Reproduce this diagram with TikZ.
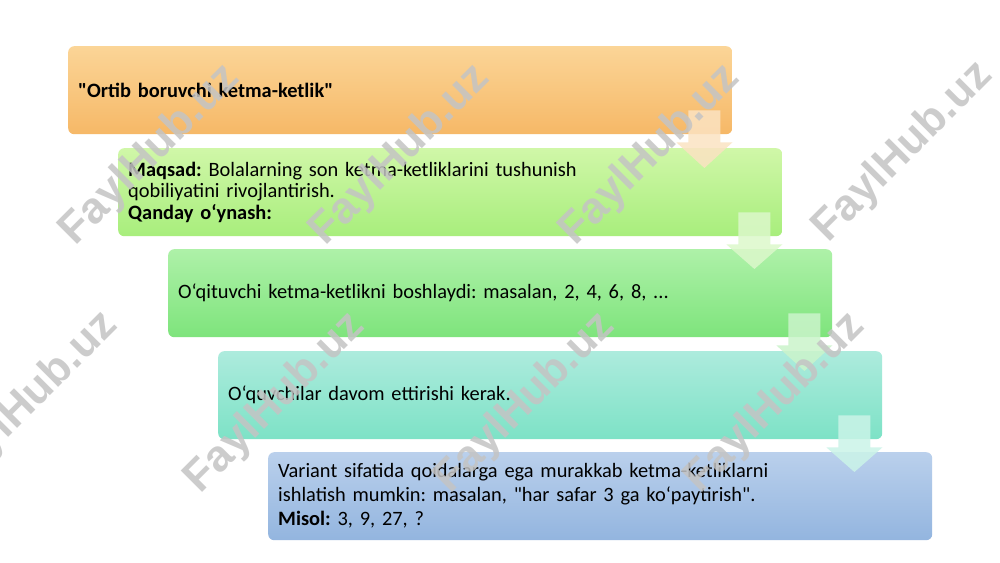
\documentclass[tikz,border=0pt]{standalone}
\usepackage{fontspec}
\setmainfont{Carlito}[Ligatures=TeXOff]
\newfontfamily\wmfont{Liberation Sans}
\usetikzlibrary{calc}
\definecolor{oT}{HTML}{FBD597}\definecolor{oB}{HTML}{F6B867}
\definecolor{lgT}{HTML}{D0F7A8}\definecolor{lgB}{HTML}{A8EE7C}
\definecolor{gT}{HTML}{AEF1A8}\definecolor{gB}{HTML}{7EE47C}
\definecolor{tT}{HTML}{ADEBDD}\definecolor{tB}{HTML}{7DE2C6}
\definecolor{bT}{HTML}{BAD0EC}\definecolor{bB}{HTML}{93B5DF}
\definecolor{wm}{HTML}{C4C4C4}
\newcommand\boxfont[1]{\frenchspacing\fontsize{20.4}{#1}\selectfont}
\tikzset{
  box/.style={anchor=north west, rounded corners=6pt, minimum width=664pt, minimum height=88pt,
    text width=644pt, inner xsep=10pt, align=left, font=\boxfont{21.5pt}, text=black},
  wmark/.style={rotate=45, font=\wmfont\bfseries\fontsize{44}{44}\selectfont, text=wm, text opacity=0.85},
}
\newcommand\blkarrow[3]{%
  \coordinate (#1top) at ($(#1.south east)+(-28pt,24pt)$);
  \coordinate (#1base) at ($(#1.south east)+(-28pt,-8pt)$);
  \coordinate (#1n) at ($(#2.north)+(0,-20pt)$);
  \coordinate (#1tip) at (#1base |- #1n);
  \fill[#3!40!white, opacity=0.85] ($(#1top)+(-16pt,0)$) -- ($(#1top)+(16pt,0)$) -- ($(#1base)+(16pt,0)$)
    -- ($(#1base)+(28pt,0)$) -- (#1tip) -- ($(#1base)+(-28pt,0)$) -- ($(#1base)+(-16pt,0)$) -- cycle;
}
\begin{document}
\begin{tikzpicture}[x=1pt,y=-1pt]
\useasboundingbox (0,0) rectangle (1000,562);
\fill[white] (0,0) rectangle (1000,562);
\node[box, top color=oT, bottom color=oB] (b1) at (68,46) {\textbf{"Ortib boruvchi ketma-ketlik"}};
\node[box, top color=lgT, bottom color=lgB] (b2) at (118,148) {\textbf{Maqsad:} Bolalarning son ketma-ketliklarini tushunish\\ qobiliyatini rivojlantirish.\\ \textbf{Qanday o‘ynash:}};
\node[box, top color=gT, bottom color=gB] (b3) at (168,249) {O‘qituvchi ketma-ketlikni boshlaydi: masalan, 2, 4, 6, 8, ...};
\node[box, top color=tT, bottom color=tB] (b4) at (218,351) {O‘quvchilar davom ettirishi kerak.};
\node[box, top color=bT, bottom color=bB, font=\boxfont{24pt}] (b5) at (268,452) {Variant sifatida qoidalarga ega murakkab ketma-ketliklarni\\ ishlatish mumkin: masalan, "har safar 3 ga ko‘paytirish".\\ \textbf{Misol:} 3, 9, 27, ?};
\blkarrow{b1}{b2}{oB}
\blkarrow{b2}{b3}{lgB}
\blkarrow{b3}{b4}{gB}
\blkarrow{b4}{b5}{tB}
\node[wmark] (w1) at (150,155) {FaylHub.uz};
\node[wmark] (w2) at (400,155) {FaylHub.uz};
\node[wmark] (w3) at (650,155) {FaylHub.uz};
\node[wmark] (w4) at (903,152) {FaylHub.uz};
\node[wmark] (w5) at (28,402) {FaylHub.uz};
\node[wmark] (w6) at (275,403) {FaylHub.uz};
\node[wmark] (w7) at (525,403) {FaylHub.uz};
\node[wmark] (w8) at (775,403) {FaylHub.uz};
\end{tikzpicture}
\end{document}
